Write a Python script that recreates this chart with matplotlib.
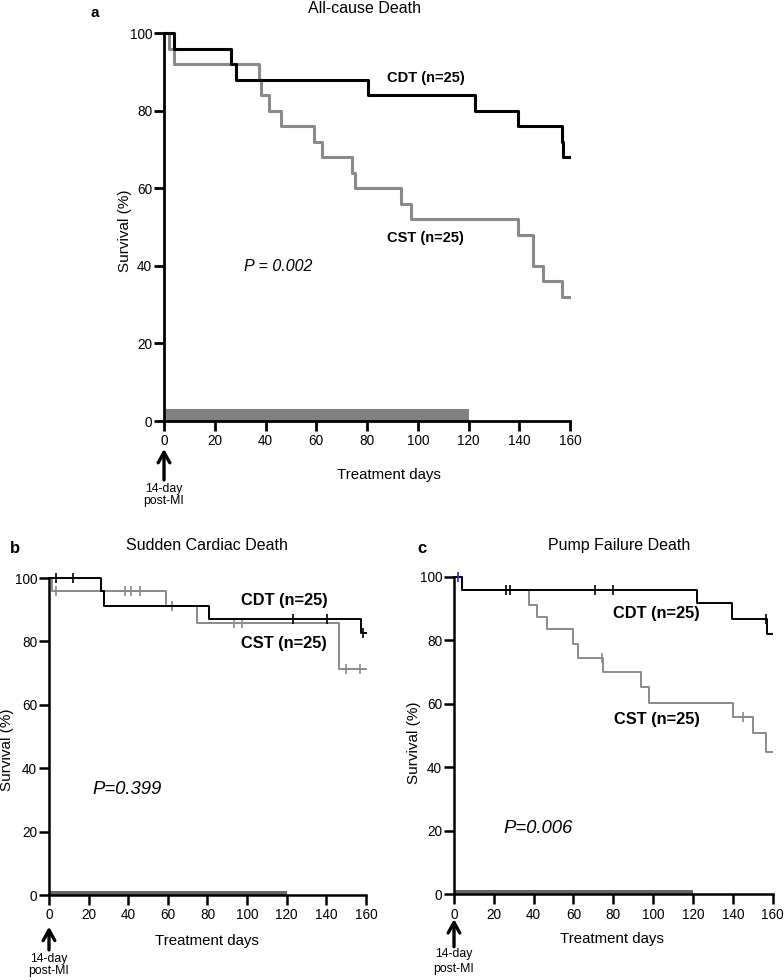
import numpy as np
import matplotlib
matplotlib.use('Agg')
import matplotlib.pyplot as plt

plt.rcParams['font.family'] = ['Liberation Sans', 'DejaVu Sans']

# Panel a: All-cause death (step times in days, survival in %)
a_cdt_t = [0, 4, 26.3, 28.2, 80.3, 122.6, 139.3, 156.7, 157.4, 159.7]
a_cdt_s = [100, 96, 92, 88, 84, 80, 76, 72, 68, 68]
a_cst_t = [0, 2, 4, 37.3, 38.2, 41.4, 46.1, 59.2, 62.4, 74.2, 75.1, 93.3, 97.3,
           139.5, 145.5, 149.5, 156.7, 159.7]
a_cst_s = [100, 96, 92, 88, 84, 80, 76, 72, 68, 64, 60, 56, 52, 48, 40, 36, 32, 32]

# Panel b: Sudden cardiac death
b_cdt_t = [0, 26, 27.9, 80.6, 157.6, 160]
b_cdt_s = [100, 95.8, 91.3, 87.1, 82.5, 82.5]
b_cdt_cens = [3.4, 12, 123.3, 140.1, 158.3]
b_cst_t = [0, 1.7, 59.3, 74.8, 146.4, 160]
b_cst_s = [100, 96, 91.3, 85.7, 71.2, 71.2]
b_cst_cens = [3.3, 38.2, 41.6, 45.8, 62.3, 93.4, 97.5, 150, 156.8]

# Panel c: Pump failure death
c_cdt_t = [0, 3.8, 122.2, 139.5, 157.1, 159.5]
c_cdt_s = [100, 95.8, 91.6, 86.8, 82, 82]
c_cdt_cens = [26, 28, 71, 80, 156.5]
c_cst_t = [0, 3.8, 37.8, 41.5, 46.6, 60, 62.1, 75, 93.8, 98.1, 140, 150.1, 156.8, 159.5]
c_cst_s = [100, 95.8, 91.1, 87.2, 83.4, 78.8, 74.5, 69.9, 65.4, 60.4, 55.9, 50.7, 44.9, 44.9]
c_cst_cens = [74.3, 145]

treat_end = 120  # treatment period bar
xticks = [0, 20, 40, 60, 80, 100, 120, 140, 160]
yticks = [0, 20, 40, 60, 80, 100]

GRAY = '#8a8a8a'


def surv_at(t, s, x):
    # value of the step curve at time x
    i = np.searchsorted(t, x, side='right') - 1
    return np.array(s)[i]


def setup(ax, lw, bar_h, bar_col, title, tpos, xl, yl, arrow):
    ax.set_xlim(0, 160)
    ax.set_ylim(0, 100)
    ax.set_xticks(xticks)
    ax.set_yticks(yticks)
    for sp in ['top', 'right']:
        ax.spines[sp].set_visible(False)
    for sp in ['left', 'bottom']:
        ax.spines[sp].set_linewidth(lw)
    ax.tick_params(direction='out', length=7.5, width=lw, labelsize=9.8, pad=1)
    ax.tick_params(axis='x', pad=2)
    ax.barh(0, treat_end, height=bar_h, left=0, align='edge', color=bar_col, zorder=1)
    ax.text(tpos[0], tpos[1], title, transform=ax.transAxes, fontsize=11.5,
            ha='center', va='center')
    ax.set_xlabel('Treatment days', fontsize=10.8)
    ax.xaxis.set_label_coords(*xl)
    ax.xaxis.label.set_verticalalignment('center')
    ax.set_ylabel('Survival (%)', fontsize=11)
    ax.yaxis.set_label_coords(*yl)
    ax.yaxis.label.set_verticalalignment('center')
    tip, tail, t1, t2 = arrow
    ax.annotate('', xy=(0, tip), xytext=(0, tail), xycoords=('data', 'axes fraction'),
                textcoords=('data', 'axes fraction'),
                arrowprops=dict(arrowstyle='->,head_length=0.75,head_width=0.42',
                                lw=2.4, color='black', shrinkA=0, shrinkB=0),
                annotation_clip=False)
    ax.text(0, t1, '14-day', transform=ax.get_xaxis_transform(), ha='center', va='center', fontsize=8.8)
    ax.text(0, t2, 'post-MI', transform=ax.get_xaxis_transform(), ha='center', va='center', fontsize=8.8)


fig = plt.figure(figsize=(7.84, 9.8), dpi=100)

# ---- panel a
ax = fig.add_axes([0.2092, 0.5704, 0.5179, 0.3959])
ax.step(a_cst_t, a_cst_s, where='post', color=GRAY, lw=2.2, clip_on=False, zorder=3)
ax.step(a_cdt_t, a_cdt_s, where='post', color='black', lw=2.2, clip_on=False, zorder=3)
setup(ax, 2.0, 3.2, '#808080', 'All-cause Death', (0.495, 1.062),
      (0.554, -0.139), (-0.096, 0.49), (-0.072, -0.152, -0.175, -0.206))
ax.text(103, 88.4, 'CDT (n=25)', ha='center', va='center', fontsize=10.5, fontweight='bold')
ax.text(103, 47.2, 'CST (n=25)', ha='center', va='center', fontsize=10.5, fontweight='bold')
ax.text(45, 39.7, 'P = 0.002', ha='center', va='center', fontsize=11.5, style='italic')
fig.text(0.121, 0.987, 'a', fontsize=11, fontweight='bold', ha='center', va='center')

# ---- panel b
ax = fig.add_axes([0.0625, 0.0867, 0.4043, 0.3235])
ax.step(b_cst_t, b_cst_s, where='post', color=GRAY, lw=1.4, clip_on=False, zorder=3)
ax.plot(b_cst_cens, surv_at(b_cst_t, b_cst_s, b_cst_cens), ls='none', marker='|',
        ms=7, mew=1.2, color=GRAY, clip_on=False, zorder=3)
ax.step(b_cdt_t, b_cdt_s, where='post', color='black', lw=1.4, clip_on=False, zorder=4)
ax.plot(b_cdt_cens, surv_at(b_cdt_t, b_cdt_s, b_cdt_cens), ls='none', marker='|',
        ms=7, mew=1.2, color='black', clip_on=False, zorder=4)
setup(ax, 1.8, 1.4, '#666666', 'Sudden Cardiac Death', (0.498, 1.101),
      (0.498, -0.145), (-0.132, 0.457), (-0.1, -0.173, -0.202, -0.240))
ax.text(118.6, 93, 'CDT (n=25)', ha='center', va='center', fontsize=11.8, fontweight='bold')
ax.text(118.6, 79.2, 'CST (n=25)', ha='center', va='center', fontsize=11.8, fontweight='bold')
ax.text(39.4, 33.4, 'P=0.399', ha='center', va='center', fontsize=13.3, style='italic')
fig.text(0.019, 0.44, 'b', fontsize=12, fontweight='bold', ha='center', va='center')

# ---- panel c
ax = fig.add_axes([0.5791, 0.0874, 0.4064, 0.3241])
ax.step(c_cst_t, c_cst_s, where='post', color=GRAY, lw=1.4, clip_on=False, zorder=3)
ax.plot(c_cst_cens, surv_at(c_cst_t, c_cst_s, c_cst_cens), ls='none', marker='|',
        ms=7, mew=1.2, color=GRAY, clip_on=False, zorder=3)
ax.step(c_cdt_t, c_cdt_s, where='post', color='black', lw=1.4, clip_on=False, zorder=4)
ax.plot(c_cdt_cens, surv_at(c_cdt_t, c_cdt_s, c_cdt_cens), ls='none', marker='|',
        ms=7, mew=1.2, color='black', clip_on=False, zorder=4)
ax.plot([2.2], [100], ls='none', marker='|', ms=7, mew=1.2, color='#2020ff', clip_on=False, zorder=5)
setup(ax, 1.8, 1.4, '#666666', 'Pump Failure Death', (0.518, 1.097),
      (0.496, -0.141), (-0.126, 0.476), (-0.078, -0.165, -0.188, -0.235))
ax.text(101.8, 88.5, 'CDT (n=25)', ha='center', va='center', fontsize=11.8, fontweight='bold')
ax.text(101.8, 54.9, 'CST (n=25)', ha='center', va='center', fontsize=11.8, fontweight='bold')
ax.text(42.4, 20.8, 'P=0.006', ha='center', va='center', fontsize=13.3, style='italic')
fig.text(0.538, 0.44, 'c', fontsize=12, fontweight='bold', ha='center', va='center')

fig.savefig('out.png', dpi=100)
